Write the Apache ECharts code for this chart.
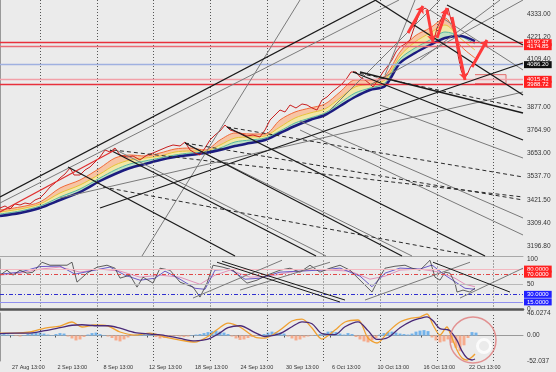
<!DOCTYPE html>
<html><head><meta charset="utf-8">
<script src="https://cdn.jsdelivr.net/npm/echarts@6/dist/echarts.min.js"></script>
<style>html,body{margin:0;padding:0;background:#ebebeb}#c{width:556px;height:372px}</style>
</head><body><div id="c"></div>
<script>
// ---------- axes / ticks ----------
const xMax = 1046; // H1 bars shown
const xTickBars = [20,111,203,294,386,477,568,660,751,843,934];
const xTickLabels = ['27 Aug 13:00','2 Sep 13:00','8 Sep 13:00','12 Sep 13:00','18 Sep 13:00','24 Sep 13:00','30 Sep 13:00','6 Oct 13:00','10 Oct 13:00','16 Oct 13:00','22 Oct 13:00'];
const gridBars = [80,194,306,420,534,646,760,874,986];
const priceMin = 3147.9, priceMax = 4401.6;
const priceTicks = [4333.0,4221.2,4109.4,3877.0,3764.9,3653.0,3537.7,3421.5,3309.4,3196.8];
const rsiTicks = [100,50,0];
const macdTicks = [46.0274,0,-52.037];
const macdTickLabels = ['46.0274','0.00','-52.037'];

// ---------- price (bar, price) ----------
const priceLine = [[0,3383.0],[10,3392.8],[20,3378.1],[30,3402.6],[40,3397.7],[50,3407.5],[60,3402.6],[70,3422.2],[80,3432.0],[90,3456.4],[100,3485.8],[110,3505.4],[120,3530.0],[130,3549.5],[140,3578.9],[148,3544.6],[160,3544.6],[170,3569.1],[180,3583.8],[190,3608.3],[200,3632.7],[210,3667.0],[220,3657.2],[230,3676.8],[240,3642.5],[254,3632.7],[266,3637.6],[280,3618.1],[294,3642.5],[306,3652.3],[320,3667.0],[334,3681.7],[346,3691.5],[360,3686.6],[370,3706.2],[380,3667.0],[390,3652.3],[400,3642.5],[410,3676.8],[420,3716.0],[430,3740.5],[440,3760.0],[450,3789.4],[460,3765.0],[480,3750.3],[494,3735.6],[506,3740.5],[520,3730.7],[530,3765.0],[540,3814.0],[550,3838.4],[560,3862.9],[570,3853.1],[580,3887.4],[592,3872.7],[604,3892.3],[614,3887.4],[624,3872.7],[634,3862.9],[644,3911.9],[654,3926.6],[664,3951.0],[674,3970.6],[684,3990.2],[694,4019.6],[702,4049.0],[712,4049.0],[720,4024.5],[730,4009.8],[740,3990.2],[746,3975.5],[756,4009.8],[766,4049.0],[774,4073.5],[784,4107.8],[792,4147.0],[800,4171.4],[810,4186.1],[820,4205.7],[830,4279.1],[840,4342.8],[850,4362.4],[856,4352.6],[862,4230.2],[868,4205.7],[874,4264.4],[880,4293.8],[888,4342.8],[896,4362.4],[902,4303.6],[910,4230.2],[916,4132.2],[922,4058.8],[928,4019.6],[934,4034.3],[940,4068.6],[946,4093.1],[952,4117.6],[960,4147.0]];

// ---------- moving-average ribbon ----------
const maBars = [0,40,80,120,160,200,230,260,290,320,350,380,410,440,470,500,530,560,590,620,650,680,710,740,770,800,830,860,890,920,950];
const maFast = [3373.2,3387.9,3412.4,3480.9,3520.1,3578.9,3627.8,3642.5,3637.6,3652.3,3671.9,3676.8,3667.0,3716.0,3750.3,3745.4,3745.4,3814.0,3853.1,3872.7,3892.3,3951.0,4009.8,4009.8,4029.4,4147.0,4225.3,4264.5,4313.4,4181.2,4117.6];
const maMid = [3363.4,3378.1,3402.6,3456.4,3495.6,3549.5,3593.6,3618.1,3627.8,3637.6,3657.2,3662.1,3662.1,3691.5,3725.8,3730.7,3735.6,3779.7,3823.7,3848.2,3867.8,3921.7,3975.5,3990.2,4009.8,4127.3,4195.9,4240.0,4279.1,4215.5,4156.7];
const maSlowMid = [3353.6,3368.3,3392.8,3436.9,3476.0,3530.0,3569.1,3598.5,3613.2,3627.8,3642.5,3652.3,3657.2,3676.8,3706.2,3716.0,3725.8,3760.1,3799.3,3823.7,3848.2,3897.2,3946.1,3970.6,3995.1,4112.7,4166.5,4205.7,4244.9,4225.3,4186.1];
const maSlow = [3343.8,3358.5,3383.0,3422.2,3461.3,3515.2,3549.5,3578.9,3598.5,3618.1,3632.7,3642.5,3652.3,3667.0,3686.6,3701.3,3716.0,3750.3,3784.6,3814.0,3838.4,3882.5,3926.6,3960.8,3980.4,4093.1,4142.0,4181.2,4215.5,4225.3,4200.8];

// ---------- horizontal levels ----------
const priceLevels = [4192.5,4173.0,4085.0,4013.2,3988.7];
const priceLevelLabels = ['4192.47','4174.85','4086.20','4015.43','3988.72'];
const zoneBox = [[860,4036],[1012,3992]];

// ---------- trend lines [bar1, price1, bar2, price2] ----------
const blackTrends = [[0,3436.9,752,4401.6],[200,3383.0,1046,4093.1],[136,3583.8,470,3147.9],[220,3667.0,632,3147.9],[370,3701.3,804,3147.9],[454,3779.7,970,3147.9],[750,4401.6,1046,3936.4],[894,4377.1,1046,4181.2],[720,4049.0,1046,3848.2],[706,4049.0,1046,3716.0]];
const grayTrends = [[0,3407.5,798,4401.6],[284,3147.9,600,4401.6],[660,3862.9,880,4401.6],[740,3985.3,1046,4401.6],[120,3432.0,1046,3951.0],[840,4107.8,1000,4401.6],[770,4034.3,830,4401.6],[232,3667.0,652,3147.9],[380,3686.6,824,3147.9],[600,3765.0,1046,3250.8],[600,3809.0,1046,3334.0],[760,3887.4,1046,3627.8],[860,4352.6,1046,4058.8]];
const dashedTrends = [[226,3667.0,1046,3436.9],[206,3485.8,948,3147.9],[370,3701.3,1046,3422.2],[454,3779.7,1046,3534.8],[706,4049.0,1046,3872.7]];
const redTrends = [[0,3363.4,230,3667.0]];
const redArrows = [[816,4240.0,846,4372.2],[854,4352.6,866,4195.9],[874,4215.5,894,4362.4],[904,4318.3,930,4009.8],[944,4073.5,974,4205.7]];

// ---------- RSI panel ----------
const rsiDark = [[0,68.0],[14,77.8],[26,68.0],[40,77.8],[54,71.9],[66,73.9],[84,93.6],[100,87.7],[116,87.7],[134,87.7],[144,93.6],[154,54.2],[174,71.9],[194,83.7],[214,87.7],[230,81.8],[240,62.1],[260,68.0],[274,44.3],[286,64.0],[306,52.2],[320,81.8],[340,77.8],[360,54.2],[386,44.3],[400,24.6],[414,52.2],[426,87.7],[446,83.7],[466,77.8],[480,64.0],[494,52.2],[514,58.1],[534,68.0],[560,77.8],[580,81.8],[600,73.9],[620,87.7],[640,73.9],[660,81.8],[680,87.7],[700,77.8],[716,62.1],[730,48.3],[744,34.5],[756,58.1],[770,81.8],[790,85.7],[810,87.7],[824,81.8],[840,77.8],[860,97.5],[870,64.0],[880,58.1],[890,73.9],[900,71.9],[910,52.2],[914,34.5],[926,38.4],[940,34.5],[950,42.4]];
const rsiPurple = [[0,70],[40,74],[80,85],[120,86],[150,70],[180,76],[220,84],[250,68],[280,58],[310,62],[330,76],[360,60],[390,42],[410,40],[430,78],[460,80],[490,60],[520,62],[560,74],[600,76],[640,78],[680,82],[720,66],[744,45],[770,72],[800,82],[840,80],[864,88],[890,68],[910,55],[930,42],[950,40]];
const rsiPink = [[0,68],[40,72],[80,80],[120,84],[160,74],[200,80],[240,76],[280,64],[320,68],[360,64],[400,50],[430,68],[460,78],[500,64],[540,66],[580,74],[620,78],[660,78],[700,76],[740,60],[770,66],[800,78],[840,80],[880,74],[910,62],[930,50],[950,45]];
const rsiLevels = [80,70,50,30,15];
const rsiLevelLabels = ['80.0000','70.0000','','30.0000','15.0000'];
const rsiBlackTrends = [[434,93.6,680,14.8],[444,95.6,690,18.7],[866,93.6,1020,34.5]];
const rsiGrayTrends = [[386,22.7,564,97.5],[480,38.4,660,93.6],[730,18.7,940,93.6],[920,22.7,1046,81.8]];

// ---------- MACD panel ----------
const macdMain = [[0,5.1],[30,5.1],[60,7.2],[90,15.3],[120,19.4],[144,27.6],[164,17.4],[190,21.5],[216,19.4],[240,7.2],[270,1.0],[300,5.1],[330,-3.1],[360,-9.2],[390,-13.3],[414,-3.1],[436,13.3],[456,25.5],[480,17.4],[510,-3.1],[530,-5.1],[560,11.2],[584,29.6],[604,33.7],[624,15.3],[644,-7.2],[670,11.2],[690,27.6],[716,31.7],[736,-5.1],[754,-15.3],[776,7.2],[800,27.6],[824,35.8],[840,37.8],[854,44.0],[866,21.5],[880,1.0],[894,17.4],[900,5.1],[914,-29.6],[924,-46.0],[934,-50.1],[944,-43.9],[950,-37.8]];
const macdSignal = [[0,4],[30,5],[60,5],[90,10],[120,16],[144,21],[164,22],[190,20],[216,20],[240,15],[270,6],[300,3],[330,0],[360,-6],[390,-11],[414,-8],[436,3],[456,16],[480,20],[510,6],[530,-2],[560,4],[584,18],[604,28],[624,24],[644,4],[670,2],[690,18],[716,28],[736,10],[754,-8],[776,-4],[800,16],[824,30],[840,35],[854,38],[866,30],[880,14],[894,12],[900,10],[914,-10],[924,-32],[934,-46],[944,-50],[950,-48]];
const histStep = 8; // one histogram bar every 8 H1 bars
const macdHist = [2,3,2,1,-1,-2,1,3,5,7,6,4,2,1,3,5,4,-2,-6,-10,-8,-3,2,5,6,3,1,-2,-5,-10,-12,-8,-4,-1,2,3,4,5,2,-3,-6,-5,-3,-2,-1,-2,-3,-2,1,2,3,5,7,9,10,8,6,3,-2,-6,-9,-8,-5,-3,-1,1,3,6,8,7,6,4,-2,-6,-10,-8,-4,-2,-1,1,3,5,8,9,7,4,2,5,3,-3,-8,-12,-14,-10,-5,2,5,7,8,6,4,3,2,4,8,10,11,9,-4,-10,-14,-12,-8,-15,-25,-32,-20,-5,7,6];
const circleMark = [946,-9.2];
const logoMark = [968,-21.5];

// ---------- build ----------
const FONT = 'Liberation Sans';
const chart = echarts.init(document.getElementById('c'));
const segs = list => list.map(a => [{coord:[a[0],a[1]]},{coord:[a[2],a[3]]}]);
const pairs = (xs, ys) => xs.map((x,i) => [x, ys[i]]);
function lineSet(list, xi, color, width, type, z, sym) {
  return {type:'line', xAxisIndex:xi, yAxisIndex:xi, data:[], silent:true, z:z,
    markLine:{silent:true, symbol:sym || 'none', symbolSize:7, animation:false, label:{show:false},
      lineStyle:{color:color, width:width, type:type, opacity:1}, data:segs(list)}};
}
function gridSet(xi) {
  return {type:'line', xAxisIndex:xi, yAxisIndex:xi, data:[], silent:true, z:3,
    markLine:{silent:true, symbol:'none', animation:false, label:{show:false},
      lineStyle:{color:'#555', width:1, type:[1,2]}, data:gridBars.map(b => ({xAxis:b}))}};
}
function boxLabel(text, bg) {
  return text ? {show:true, position:'end', formatter:text, color:'#fff', backgroundColor:bg,
    padding:[1,3,0,3], fontSize:6, fontFamily:FONT, distance:1} : {show:false};
}
const priceLevelStyle = [['#e8303c',1.4,'#ff2020'],['#ec6a74',1.4,'#ff2020'],['#9fb0e0',1.4,'#111111'],['#f2a0a8',1.4,'#ff2020'],['#e8303c',1.4,'#ff2020']];
const rsiLevelStyle = [['#f3b8c0',1,'solid','#ff2020'],['#e04848',1,[4,2,1,2],'#ff2020'],['#b8b8b8',1,'solid',''],['#3030d0',1,[4,2,1,2],'#2020ff'],['#9090ee',1,'solid','#2020ff']];

const yLab = {fontFamily:FONT, fontSize:6.5, color:'#333', margin:4};
const xAxisBase = (gi, line) => ({type:'value', gridIndex:gi, min:0, max:xMax, axisLabel:{show:false}, axisTick:{show:false}, splitLine:{show:false}, axisLine:line});

const option = {
  backgroundColor:'#ebebeb',
  animation:false,
  grid:[
    {left:0, right:33, top:0, height:256},
    {left:0, right:33, top:259, height:50.5},
    {left:0, right:33, top:313, height:48}
  ],
  xAxis:[
    xAxisBase(0, {show:true, lineStyle:{color:'#a8a8a8', width:1}}),
    Object.assign(xAxisBase(1, {show:true, lineStyle:{color:'#555', width:2.5}}), {offset:1.5}),
    Object.assign(xAxisBase(2, {show:true, lineStyle:{color:'#999', width:1}}), {
      axisLabel:{show:true, customValues:xTickBars, formatter:v => xTickLabels[xTickBars.indexOf(v)] || '',
        align:'left', fontFamily:FONT, fontSize:5.5, color:'#333', margin:3, padding:[0,0,0,2]},
      axisTick:{show:true, customValues:xTickBars, length:2, lineStyle:{color:'#555'}}
    })
  ],
  yAxis:[
    {type:'value', gridIndex:0, position:'right', min:priceMin, max:priceMax, splitLine:{show:false},
      axisLine:{show:true, lineStyle:{color:'#999'}}, axisTick:{show:false},
      axisLabel:Object.assign({customValues:priceTicks, formatter:v => v.toFixed(2)}, yLab)},
    {type:'value', gridIndex:1, position:'right', min:0, max:100, splitLine:{show:false},
      axisLine:{show:true, lineStyle:{color:'#999'}}, axisTick:{show:false},
      axisLabel:Object.assign({customValues:rsiTicks, formatter:v => String(v)}, yLab)},
    {type:'value', gridIndex:2, position:'right', min:-52.037, max:46.0274, splitLine:{show:false},
      axisLine:{show:true, lineStyle:{color:'#999'}}, axisTick:{show:false},
      axisLabel:Object.assign({customValues:macdTicks, formatter:v => macdTickLabels[macdTicks.indexOf(v)] || ''}, yLab)}
  ],
  series:[
    // ribbon (areas stacked by drawing order)
    {type:'line', xAxisIndex:0, yAxisIndex:0, data:pairs(maBars, maFast), showSymbol:false, smooth:0.3, z:1,
      lineStyle:{color:'#f06a3a', width:1}, areaStyle:{color:'#f7c4a4', opacity:1, origin:'start'}},
    {type:'line', xAxisIndex:0, yAxisIndex:0, data:pairs(maBars, maMid), showSymbol:false, smooth:0.3, z:1,
      lineStyle:{color:'#e6c23a', width:1}, areaStyle:{color:'#f2e7a6', opacity:1, origin:'start'}},
    {type:'line', xAxisIndex:0, yAxisIndex:0, data:pairs(maBars, maSlowMid), showSymbol:false, smooth:0.3, z:1,
      lineStyle:{color:'#58b8a0', width:1}, areaStyle:{color:'#bfe3c4', opacity:1, origin:'start'}},
    {type:'line', xAxisIndex:0, yAxisIndex:0, data:pairs(maBars, maSlow), showSymbol:false, smooth:0.3, z:1,
      lineStyle:{color:'#1c1c80', width:2.5}, areaStyle:{color:'#ebebeb', opacity:1, origin:'start'}},
    // price
    {type:'line', xAxisIndex:0, yAxisIndex:0, data:priceLine, showSymbol:false, z:4,
      lineStyle:{color:'#c82020', width:1}},
    gridSet(0), gridSet(1), gridSet(2),
    // levels + zone
    {type:'line', xAxisIndex:0, yAxisIndex:0, data:[], silent:true, z:7,
      markLine:{silent:true, symbol:'none', animation:false,
        data:priceLevels.map((v,i) => ({yAxis:v, lineStyle:{color:priceLevelStyle[i][0], width:priceLevelStyle[i][1], type:'solid'},
          label:boxLabel(priceLevelLabels[i], priceLevelStyle[i][2])}))},
      markArea:{silent:true, itemStyle:{color:'rgba(255,190,190,0.25)', borderColor:'#e06a6a', borderWidth:1},
        data:[[{coord:zoneBox[0]},{coord:zoneBox[1]}]]}},
    lineSet(grayTrends, 0, '#7a7a7a', 1, 'solid', 5),
    lineSet(dashedTrends, 0, '#2a2a2a', 1, [4,3], 5),
    lineSet(blackTrends, 0, '#1a1a1a', 1.3, 'solid', 6),
    lineSet(redTrends, 0, '#e03030', 1.2, 'solid', 6),
    lineSet(redArrows, 0, '#ff3a3a', 3, 'solid', 8, ['none','arrow']),
    // RSI
    {type:'line', xAxisIndex:1, yAxisIndex:1, data:[], silent:true, z:2,
      markLine:{silent:true, symbol:'none', animation:false,
        data:rsiLevels.map((v,i) => ({yAxis:v, lineStyle:{color:rsiLevelStyle[i][0], width:rsiLevelStyle[i][1], type:rsiLevelStyle[i][2]},
          label:boxLabel(rsiLevelLabels[i], rsiLevelStyle[i][3])}))}},
    {type:'line', xAxisIndex:1, yAxisIndex:1, data:rsiPink, showSymbol:false, z:4, lineStyle:{color:'#e090b8', width:1}},
    {type:'line', xAxisIndex:1, yAxisIndex:1, data:rsiPurple, showSymbol:false, z:4, lineStyle:{color:'#6a5ac8', width:1}},
    {type:'line', xAxisIndex:1, yAxisIndex:1, data:rsiDark, showSymbol:false, z:4, lineStyle:{color:'#3a3a3a', width:0.8}},
    lineSet(rsiGrayTrends, 1, '#7a7a7a', 1, 'solid', 5),
    lineSet(rsiBlackTrends, 1, '#1a1a1a', 1, 'solid', 5),
    // MACD
    {type:'bar', xAxisIndex:2, yAxisIndex:2, data:macdHist.map((v,i) => [i*histStep, v]), barWidth:3, z:2,
      itemStyle:{color:p => p.value[1] >= 0 ? '#72b2ea' : '#f6ab8c'}},
    {type:'line', xAxisIndex:2, yAxisIndex:2, data:macdMain, showSymbol:false, smooth:0.3, z:4, lineStyle:{color:'#f0a030', width:1.3}},
    {type:'line', xAxisIndex:2, yAxisIndex:2, data:macdSignal, showSymbol:false, smooth:0.3, z:4, lineStyle:{color:'#4a2a78', width:1.3}},
    {type:'scatter', xAxisIndex:2, yAxisIndex:2, data:[circleMark], symbolSize:46, z:6, silent:true,
      itemStyle:{color:'rgba(0,0,0,0)', borderColor:'#e07a7a', borderWidth:1.5}},
    {type:'scatter', xAxisIndex:2, yAxisIndex:2, data:[logoMark], symbolSize:13, z:7, silent:true,
      itemStyle:{color:'rgba(0,0,0,0)', borderColor:'#ffffff', borderWidth:3}}
  ]
};
chart.setOption(option);
</script>
</body></html>
